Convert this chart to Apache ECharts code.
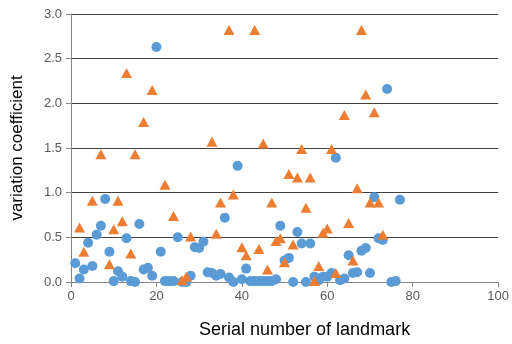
<!DOCTYPE html>
<html><head><meta charset="utf-8">
<script src="https://cdn.jsdelivr.net/npm/echarts@6/dist/echarts.min.js"></script>
<style>html,body{margin:0;padding:0;background:#fff}#c{width:512px;height:344px}</style>
</head><body><div id="c"></div>
<script>
var xTicks = [0, 20, 40, 60, 80, 100];
var yTicks = [0, 0.5, 1.0, 1.5, 2.0, 2.5, 3.0];
var blueX = [1,2,3,4,5,6,7,8,9,10,11,12,13,14,15,16,17,18,19,20,21,22,23,24,25,26,27,28,29,30,31,32,33,34,35,36,37,38,39,40,41,42,43,44,45,46,47,48,49,50,51,52,53,54,55,56,57,58,59,60,61,62,63,64,65,66,67,68,69,70,71,72,73,74,75,76,77];
var blueY = [0.21,0.04,0.14,0.44,0.18,0.53,0.63,0.93,0.34,0.01,0.12,0.06,0.49,0.01,0.00,0.65,0.14,0.16,0.07,2.63,0.34,0.01,0.01,0.01,0.50,0.00,0.00,0.07,0.39,0.38,0.45,0.11,0.10,0.07,0.09,0.72,0.05,0.00,1.30,0.03,0.15,0.01,0.01,0.01,0.01,0.01,0.01,0.03,0.63,0.24,0.27,0.00,0.56,0.43,0.00,0.43,0.06,0.02,0.06,0.06,0.10,1.39,0.02,0.04,0.30,0.10,0.11,0.35,0.38,0.10,0.95,0.49,0.47,2.16,0.00,0.01,0.92];
var orangeX = [2,3,5,7,9,10,11,12,13,14,15,17,19,22,24,26,27,28,33,34,35,37,38,40,41,43,44,45,46,47,48,49,50,51,52,53,54,55,56,57,58,59,60,61,62,64,65,66,67,68,69,70,71,72,73];
var orangeY = [0.61,0.34,0.91,1.43,0.20,0.59,0.91,0.68,2.34,0.32,1.43,1.79,2.15,1.09,0.74,0.02,0.06,0.51,1.57,0.54,0.89,2.82,0.98,0.39,0.30,2.82,0.37,1.55,0.14,0.89,0.46,0.49,0.22,1.21,0.42,1.17,1.49,0.83,1.17,0.01,0.18,0.55,0.60,1.49,0.10,1.87,0.66,0.24,1.05,2.82,2.10,0.89,1.90,0.89,0.53];

function pairs(xs, ys){ return xs.map(function(x,i){ return [x, ys[i]]; }); }
var FONT = 'Liberation Sans';
var chart = echarts.init(document.getElementById('c'), null, {renderer:'canvas'});
chart.setOption({
  animation: false,
  backgroundColor: '#fff',
  grid: {left: 71, right: 11, top: 14, bottom: 61, containLabel: false},
  xAxis: {
    type: 'value', min: xTicks[0], max: xTicks[xTicks.length-1], interval: 20,
    name: 'Serial number of landmark', nameLocation: 'middle', nameGap: 39,
    nameTextStyle: {fontFamily: FONT, fontSize: 18, color: '#000', padding: [0,0,0,40]},
    axisLine: {show: true, lineStyle: {color: '#868686', width: 1}},
    axisTick: {show: true, inside: false, length: 5, lineStyle: {color: '#868686'}},
    axisLabel: {fontFamily: FONT, fontSize: 13, color: '#595959', margin: 8,
      formatter: function(v){ return String(v); }},
    splitLine: {show: false}
  },
  yAxis: {
    type: 'value', min: yTicks[0], max: yTicks[yTicks.length-1], interval: 0.5,
    name: 'variation coefficient', nameLocation: 'middle', nameGap: 45, nameRotate: 90,
    nameTextStyle: {fontFamily: FONT, fontSize: 17, color: '#000'},
    axisLine: {show: true, lineStyle: {color: '#868686', width: 1}},
    axisTick: {show: true, inside: false, length: 5, lineStyle: {color: '#868686'}},
    axisLabel: {fontFamily: FONT, fontSize: 13, color: '#595959', margin: 9,
      formatter: function(v){ return v.toFixed(1); }},
    splitLine: {show: true, lineStyle: {color: '#404040', width: 1}}
  },
  series: [
    {name: 'series1', type: 'scatter', data: pairs(blueX, blueY), symbol: 'circle', symbolSize: 10,
     itemStyle: {color: '#5B9BD5', opacity: 1}, z: 2},
    {name: 'series2', type: 'scatter', data: pairs(orangeX, orangeY), symbol: 'triangle', symbolSize: [11, 10],
     itemStyle: {color: '#ED7D31', opacity: 1}, z: 3}
  ]
});
</script></body></html>
